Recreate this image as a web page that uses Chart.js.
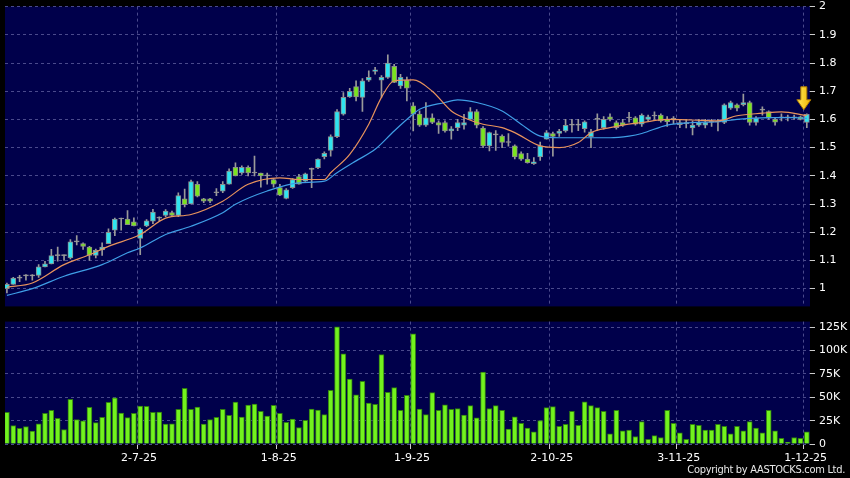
<!DOCTYPE html>
<html>
<head>
<meta charset="utf-8">
<script src="https://cdn.jsdelivr.net/npm/chart.js@4.4.1/dist/chart.umd.min.js"></script>
<style>
  html, body { margin: 0; padding: 0; background: #000; }
  #wrap { position: relative; width: 850px; height: 478px; overflow: hidden; background: #000; }
  #priceBox { position: absolute; left: 0; top: -4px; width: 850px; height: 321px; }
  #volBox { position: absolute; left: 0; top: 311px; width: 850px; height: 167px; }
  #copy { position: absolute; right: 5px; top: 463px; color: #e8e8e8; letter-spacing: -0.3px;
          font: 11px 'DejaVu Sans Condensed', 'DejaVu Sans', sans-serif; font-stretch: condensed; }
</style>
</head>
<body>
<div id="wrap">
  <div id="priceBox"><canvas id="priceChart"></canvas></div>
  <div id="volBox"><canvas id="volChart"></canvas></div>
  <div id="copy">Copyright by AASTOCKS.com Ltd.</div>
</div>
<script>
// trading days (d-m-yy)
const dates = [
  '2-6-25','3-6-25','4-6-25','5-6-25','6-6-25','9-6-25','10-6-25','11-6-25','12-6-25','13-6-25',
  '16-6-25','17-6-25','18-6-25','19-6-25','20-6-25','23-6-25','24-6-25','25-6-25','26-6-25','27-6-25','30-6-25',
  '2-7-25','3-7-25','4-7-25','7-7-25','8-7-25','9-7-25','10-7-25','11-7-25','14-7-25','15-7-25','16-7-25',
  '17-7-25','18-7-25','21-7-25','22-7-25','23-7-25','24-7-25','25-7-25','28-7-25','29-7-25','30-7-25','31-7-25',
  '1-8-25','4-8-25','5-8-25','6-8-25','7-8-25','8-8-25','11-8-25','12-8-25','13-8-25','14-8-25','15-8-25',
  '18-8-25','19-8-25','20-8-25','21-8-25','22-8-25','25-8-25','26-8-25','27-8-25','28-8-25','29-8-25',
  '1-9-25','2-9-25','3-9-25','4-9-25','5-9-25','8-9-25','9-9-25','10-9-25','11-9-25','12-9-25','15-9-25',
  '16-9-25','17-9-25','18-9-25','19-9-25','22-9-25','23-9-25','24-9-25','25-9-25','26-9-25','29-9-25','30-9-25',
  '2-10-25','3-10-25','6-10-25','8-10-25','9-10-25','10-10-25','13-10-25','14-10-25','15-10-25','16-10-25',
  '17-10-25','20-10-25','21-10-25','22-10-25','23-10-25','24-10-25','27-10-25','28-10-25','30-10-25','31-10-25',
  '3-11-25','4-11-25','5-11-25','6-11-25','7-11-25','10-11-25','11-11-25','12-11-25','13-11-25','14-11-25',
  '17-11-25','18-11-25','19-11-25','20-11-25','21-11-25','24-11-25','25-11-25','26-11-25','27-11-25','28-11-25',
  '1-12-25'
];

const open = [
  1.000,1.015,1.037,1.045,1.045,1.047,1.077,1.088,1.117,1.117,
  1.109,1.166,1.160,1.147,1.118,1.137,1.159,1.207,1.247,1.247,
  1.237,1.178,1.222,1.239,1.250,1.260,1.270,1.260,1.318,1.300,
  1.370,1.318,1.318,1.340,1.346,1.370,1.430,1.410,1.430,1.410,
  1.410,1.400,1.387,1.358,1.320,1.358,1.397,1.381,1.423,1.429,
  1.468,1.490,1.539,1.619,1.680,1.716,1.678,1.739,1.770,1.739,
  1.749,1.788,1.719,1.739,1.648,1.619,1.580,1.606,1.589,1.589,
  1.559,1.571,1.580,1.600,1.628,1.569,1.506,1.545,1.541,1.518,
  1.506,1.479,1.459,1.443,1.467,1.530,1.550,1.550,1.559,1.580,
  1.580,1.567,1.539,1.600,1.571,1.609,1.589,1.589,1.605,1.606,
  1.583,1.600,1.612,1.615,1.600,1.600,1.581,1.585,1.570,1.580,
  1.580,1.590,1.590,1.589,1.640,1.652,1.652,1.660,1.589,1.633,
  1.628,1.600,1.606,1.606,1.606,1.609,1.589
];
const high = [
  1.020,1.040,1.047,1.050,1.050,1.085,1.097,1.139,1.147,1.120,
  1.174,1.188,1.162,1.150,1.140,1.162,1.212,1.250,1.250,1.277,
  1.251,1.215,1.245,1.281,1.255,1.280,1.275,1.340,1.353,1.385,
  1.380,1.320,1.320,1.355,1.380,1.425,1.446,1.435,1.435,1.470,
  1.410,1.410,1.390,1.370,1.355,1.390,1.405,1.410,1.427,1.460,
  1.485,1.545,1.635,1.695,1.710,1.737,1.745,1.772,1.785,1.755,
  1.829,1.795,1.760,1.750,1.660,1.630,1.660,1.620,1.595,1.595,
  1.575,1.600,1.618,1.642,1.635,1.575,1.555,1.560,1.545,1.550,
  1.510,1.485,1.480,1.465,1.520,1.560,1.555,1.565,1.600,1.600,
  1.600,1.595,1.565,1.620,1.610,1.620,1.595,1.600,1.625,1.610,
  1.620,1.615,1.627,1.620,1.610,1.610,1.597,1.600,1.595,1.600,
  1.600,1.600,1.600,1.655,1.665,1.655,1.690,1.665,1.610,1.645,
  1.630,1.605,1.620,1.615,1.615,1.612,1.620
];
const low = [
  0.985,1.015,1.025,1.030,1.030,1.040,1.077,1.088,1.097,1.100,
  1.105,1.155,1.139,1.100,1.109,1.118,1.159,1.188,1.207,1.227,
  1.222,1.120,1.220,1.230,1.240,1.255,1.255,1.255,1.290,1.300,
  1.325,1.305,1.305,1.330,1.340,1.370,1.400,1.405,1.400,1.400,
  1.360,1.370,1.360,1.330,1.318,1.355,1.370,1.380,1.358,1.425,
  1.460,1.470,1.535,1.615,1.678,1.666,1.628,1.735,1.760,1.678,
  1.745,1.730,1.710,1.666,1.559,1.575,1.575,1.585,1.550,1.555,
  1.530,1.560,1.565,1.600,1.570,1.500,1.488,1.490,1.500,1.505,
  1.460,1.455,1.445,1.440,1.455,1.530,1.470,1.540,1.555,1.555,
  1.560,1.555,1.500,1.560,1.565,1.595,1.565,1.575,1.590,1.580,
  1.575,1.595,1.600,1.590,1.575,1.585,1.571,1.570,1.545,1.575,
  1.570,1.575,1.559,1.585,1.635,1.630,1.648,1.580,1.580,1.615,
  1.600,1.580,1.595,1.595,1.600,1.598,1.571
];
const close = [
  1.015,1.037,1.037,1.045,1.045,1.077,1.088,1.117,1.117,1.117,
  1.166,1.166,1.150,1.118,1.136,1.147,1.200,1.247,1.247,1.227,
  1.222,1.210,1.240,1.271,1.250,1.275,1.260,1.330,1.298,1.380,
  1.328,1.310,1.310,1.340,1.370,1.417,1.400,1.430,1.410,1.410,
  1.400,1.400,1.370,1.331,1.350,1.387,1.370,1.407,1.423,1.459,
  1.480,1.539,1.628,1.678,1.700,1.680,1.737,1.749,1.776,1.749,
  1.800,1.731,1.749,1.711,1.619,1.580,1.606,1.589,1.580,1.559,
  1.567,1.589,1.589,1.628,1.580,1.506,1.553,1.545,1.518,1.518,
  1.467,1.459,1.447,1.450,1.506,1.553,1.540,1.559,1.579,1.580,
  1.580,1.591,1.556,1.600,1.600,1.600,1.571,1.580,1.605,1.583,
  1.615,1.609,1.612,1.595,1.592,1.600,1.589,1.585,1.580,1.589,
  1.589,1.590,1.590,1.652,1.660,1.640,1.660,1.589,1.604,1.633,
  1.604,1.590,1.606,1.606,1.606,1.600,1.618
];

// volume, thousands of shares
const volK = [
  33.9,19.8,16.9,18.7,13.8,21.5,32.8,36.0,27.5,15.5,
  47.7,26.1,24.7,39.2,22.9,28.6,44.5,49.4,33.2,28.2,
  32.8,40.6,40.2,33.9,34.2,21.2,21.5,37.1,59.7,37.1,
  39.5,21.2,26.1,28.6,37.1,30.7,44.8,28.9,41.7,42.7,
  34.9,30.0,41.3,32.8,23.3,26.8,17.7,25.4,37.4,36.4,
  31.4,57.5,125.3,96.4,69.5,52.6,67.1,43.8,42.4,95.7,
  55.4,60.4,36.0,52.2,117.9,37.4,31.4,55,36,42,
  37,38,31,41,28,77,38,41,36,16,
  29,22,17,13,25,39,40,19,21,35,
  20,45,41,39,35,11,36,14,15,8,
  24,5,9,7,36,22,12,5,21,20,
  15,15,21,19,11,19,14,24,17,12,
  36,14,6,2,7,6,13
];

// moving averages: [day index, value]
const ma10 = [
  [0,1.005],[4,1.020],[9,1.085],[13,1.120],[16,1.150],[21,1.192],[25,1.250],[29,1.263],
  [34,1.310],[38,1.370],[43,1.393],[46,1.387],[50,1.387],[51,1.411],[54,1.476],[57,1.583],
  [59,1.678],[61,1.737],[64,1.740],[67,1.700],[70,1.630],[72,1.606],[75,1.583],[78,1.571],
  [80,1.553],[84,1.506],[87,1.500],[90,1.518],[92,1.553],[95,1.571],[97,1.580],[100,1.589],
  [104,1.600],[108,1.598],[112,1.595],[115,1.613],[119,1.622],[122,1.627],[126,1.613]
];
const ma20 = [
  [0,0.976],[4,1.000],[9,1.044],[15,1.085],[19,1.127],[21,1.144],[25,1.192],[29,1.221],
  [34,1.269],[36,1.299],[41,1.346],[46,1.375],[50,1.381],[52,1.411],[55,1.453],[58,1.494],
  [61,1.559],[64,1.619],[65,1.636],[69,1.660],[71,1.669],[74,1.660],[78,1.630],[81,1.583],
  [84,1.541],[87,1.535],[91,1.535],[95,1.535],[98,1.541],[100,1.550],[104,1.580],[108,1.589],
  [112,1.592],[115,1.600],[120,1.606],[124,1.606],[126,1.604]
];

const priceTicks = [1, 1.1, 1.2, 1.3, 1.4, 1.5, 1.6, 1.7, 1.8, 1.9, 2];
const volTicks = [0, 25, 50, 75, 100, 125];
const monthStarts = [21, 43, 64, 86, 106, 126];   // first trading day of each month shown

const UP = '#2fe4f0', DOWN = '#7ae41e', FLAT = '#a0a0a0', EDGE = '#8c8c8c';
const GRID = '#4a4a8c', NAVY = '#00004b';

Chart.defaults.font.family = 'DejaVu Sans';
Chart.defaults.font.size = 11;
Chart.defaults.color = '#ffffff';

let candleColor = (i) => close[i] > open[i] ? UP : (close[i] < open[i] ? DOWN : FLAT);

// navy plot background
const navyBg = {
  id: 'navyBg',
  beforeDraw(chart) {
    const { ctx, chartArea: a } = chart;
    ctx.save();
    ctx.fillStyle = NAVY;
    ctx.fillRect(a.left, a.top, a.width, a.height);
    ctx.restore();
  }
};

// yellow arrow over the last candle
const lastArrow = {
  id: 'lastArrow',
  afterDatasetsDraw(chart) {
    const { ctx, scales } = chart;
    const last = dates.length - 1;
    const x = scales.x.getPixelForValue(last) - 3;
    const tip = scales.y.getPixelForValue(high[last]) - 4;
    ctx.save();
    ctx.beginPath();
    ctx.moveTo(x - 3, tip - 23);
    ctx.lineTo(x + 3, tip - 23);
    ctx.lineTo(x + 3, tip - 10);
    ctx.lineTo(x + 7, tip - 10);
    ctx.lineTo(x, tip);
    ctx.lineTo(x - 7, tip - 10);
    ctx.lineTo(x - 3, tip - 10);
    ctx.closePath();
    const g = ctx.createLinearGradient(x - 7, 0, x + 7, 0);
    g.addColorStop(0, '#ffe85a');
    g.addColorStop(1, '#f0b400');
    ctx.fillStyle = g;
    ctx.fill();
    ctx.strokeStyle = '#b07a00';
    ctx.lineWidth = 1;
    ctx.stroke();
    ctx.restore();
  }
};

let xAxis = (showLabels) => ({
  type: 'linear', min: -0.3, max: 126.5, offset: false,
  afterBuildTicks: s => { s.ticks = monthStarts.map(i => ({ value: i - 0.5 })); },
  grid: { color: GRID, offset: false, drawTicks: showLabels, tickLength: 5, tickColor: '#cccccc' },
  border: { display: false, dash: [3, 3] },
  ticks: {
    display: showLabels, color: '#ffffff', padding: 3, labelOffset: 2,
    maxRotation: 0, autoSkip: false,
    callback: v => dates[Math.round(v + 0.5)]
  },
  afterFit: s => { s.height = showLabels ? 22 : 0; }
});

// price chart
new Chart(document.getElementById('priceChart'), {
  type: 'bar',
  data: {
    datasets: [
      {
        type: 'line', label: 'MA10',
        data: ma10.map(([i, v]) => ({ x: i, y: v })),
        borderColor: '#e8935c', borderWidth: 1.2, pointRadius: 0,
        cubicInterpolationMode: 'monotone', order: 0
      },
      {
        type: 'line', label: 'MA20',
        data: ma20.map(([i, v]) => ({ x: i, y: v })),
        borderColor: '#3f9ee6', borderWidth: 1.2, pointRadius: 0,
        cubicInterpolationMode: 'monotone', order: 1
      },
      {
        label: 'body',
        data: dates.map((d, i) => ({ x: i, y: [open[i], close[i]] })),
        backgroundColor: dates.map((d, i) => candleColor(i)),
        borderColor: EDGE, borderWidth: 1, borderSkipped: false,
        barThickness: 5, minBarLength: 1, grouped: false, order: 2
      },
      {
        label: 'wick',
        data: dates.map((d, i) => ({ x: i, y: [low[i], high[i]] })),
        backgroundColor: '#9a9a9a',
        barThickness: 1, grouped: false, order: 3
      }
    ]
  },
  options: {
    responsive: true,
    maintainAspectRatio: false,
    animation: false,
    layout: { padding: { left: 5, top: 2, right: 0, bottom: 2 } },
    plugins: { legend: { display: false }, tooltip: { enabled: false } },
    scales: {
      x: xAxis(false),
      y: {
        position: 'right', min: 0.937, max: 2.0,
        afterBuildTicks: s => { s.ticks = priceTicks.map(v => ({ value: v })); },
        grid: { color: GRID, tickLength: 5, tickColor: '#cccccc' },
        border: { display: false, dash: [3, 3] },
        ticks: { color: '#ffffff', padding: 4, callback: v => String(+v.toFixed(1)) },
        afterFit: s => { s.width = 40; }
      }
    }
  },
  plugins: [navyBg, lastArrow]
});

// volume chart
new Chart(document.getElementById('volChart'), {
  type: 'bar',
  data: {
    datasets: [{
      label: 'Volume',
      data: volK.map((v, i) => ({ x: i, y: v })),
      backgroundColor: '#72f21e',
      borderColor: '#2f7d10',
      borderWidth: { left: 1, right: 1, top: 1, bottom: 0 },
      borderSkipped: false,
      barThickness: 5
    }]
  },
  options: {
    responsive: true,
    maintainAspectRatio: false,
    animation: false,
    layout: { padding: { left: 5, top: 6, right: 0, bottom: 12 } },
    plugins: { legend: { display: false }, tooltip: { enabled: false } },
    scales: {
      x: xAxis(true),
      y: {
        position: 'right', min: 0, max: 131,
        afterBuildTicks: s => { s.ticks = volTicks.map(v => ({ value: v })); },
        grid: { color: GRID, tickLength: 5, tickColor: '#cccccc' },
        border: { display: false, dash: [3, 3] },
        ticks: { color: '#ffffff', padding: 4, callback: v => v === 0 ? '0' : v + 'K' },
        afterFit: s => { s.width = 40; }
      }
    }
  },
  plugins: [navyBg]
});
</script>
</body>
</html>
